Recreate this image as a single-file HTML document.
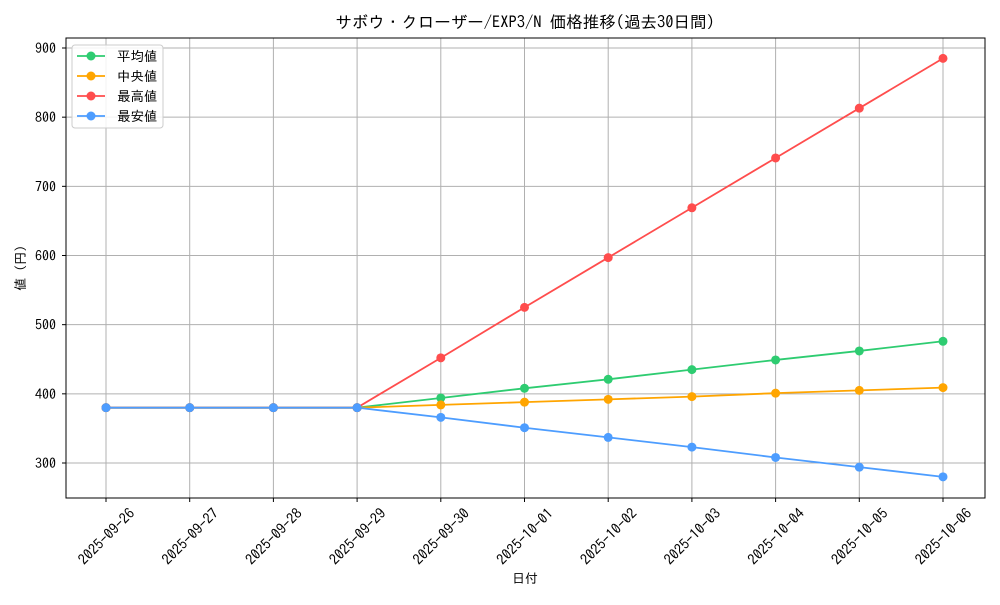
<!DOCTYPE html>
<html><head><meta charset="utf-8"><style>
body{margin:0;background:#fff}
svg text{font-family:"IPAGothic","Noto Sans CJK JP",sans-serif;fill:#000}
</style></head><body>
<svg id="chart" width="1000" height="600" xmlns="http://www.w3.org/2000/svg">
<rect width="1000" height="600" fill="#fff"/>
<text x="525" y="28" font-size="16.5" text-anchor="middle">サボウ・クローザー/EXP3/N 価格推移(過去30日間)</text>
<g id="grid"></g><g id="axes"></g><g id="series"></g>
<rect x="66" y="38" width="919" height="460" fill="none" stroke="#000" stroke-width="1"/>
<text x="525" y="583" font-size="13" text-anchor="middle">日付</text>
<text x="0" y="0" font-size="13" text-anchor="middle" transform="translate(25,268) rotate(-90)">値 (円)</text>
<g id="legend"></g>
</svg>
<script>
const categories=["2025-09-26","2025-09-27","2025-09-28","2025-09-29","2025-09-30","2025-10-01","2025-10-02","2025-10-03","2025-10-04","2025-10-05","2025-10-06"];
const avgValues=[380,380,380,380,394,408,421,435,449,462,476];
const medianValues=[380,380,380,380,384,388,392,396,401,405,409];
const maxValues=[380,380,380,380,452,525,597,669,741,813,885];
const minValues=[380,380,380,380,366,351,337,323,308,294,280];
const yTicks=[300,400,500,600,700,800,900];
const seriesNames=["平均値","中央値","最高値","最安値"];
const ns="http://www.w3.org/2000/svg";
function X(i){return 106+i*(943-106)/10;}
function Y(v){return 463-(v-300)*415/600;}
function mk(t,a,p){const e=document.createElementNS(ns,t);for(const k in a)e.setAttribute(k,a[k]);p.appendChild(e);return e;}
const grid=document.getElementById('grid'),axes=document.getElementById('axes'),ser=document.getElementById('series'),leg=document.getElementById('legend');
categories.forEach((c,i)=>{
 const g=mk('line',{x1:X(i),x2:X(i),y1:38,y2:498,stroke:'#b0b0b0','stroke-width':1},grid);
 
 
 mk('line',{x1:X(i),x2:X(i),y1:498,y2:502,stroke:'#000'},axes);
 const t=mk('text',{'font-size':14.5,'text-anchor':'middle',transform:`translate(${X(i)+4},${540}) rotate(-45)`},axes);
 t.textContent=c;
 
 
});
yTicks.forEach(v=>{
 const g=mk('line',{x1:66,x2:985,y1:Y(v),y2:Y(v),stroke:'#b0b0b0','stroke-width':1},grid);
 
 
 mk('line',{x1:62,x2:66,y1:Y(v),y2:Y(v),stroke:'#000'},axes);
 const t=mk('text',{x:56,y:Y(v)+5,'font-size':14,'text-anchor':'end'},axes);
 t.textContent=v;
 
 
});
const series=[[avgValues,'#2ecc71','series-average'],[medianValues,'#ffa500','series-median'],[maxValues,'#ff4d4d','series-max'],[minValues,'#4d9dff','series-min']];
series.forEach(([vals,col,name])=>{
 const g=mk('g',{},ser);
 
 
 mk('polyline',{points:vals.map((v,i)=>X(i)+','+Y(v)).join(' '),fill:'none',stroke:col,'stroke-width':1.8},g);
 vals.forEach((v,i)=>{const p=mk('circle',{cx:X(i),cy:Y(v),r:4.5,fill:col},g);
  
  });
});
mk('rect',{x:72,y:45,width:91,height:83,rx:3,fill:'#fff','fill-opacity':0.85,stroke:'#ccc'},leg);
series.forEach(([v,col],k)=>{
 const y=56+k*20;
 const e=mk('g',{},leg);
 
 
 mk('line',{x1:77,x2:105,y1:y,y2:y,stroke:col,'stroke-width':1.8},e);
 mk('circle',{cx:91,cy:y,r:4.5,fill:col},e);
 const t=mk('text',{x:117,y:y+5,'font-size':13.5},e);t.textContent=seriesNames[k];
});
</script>
</body></html>
